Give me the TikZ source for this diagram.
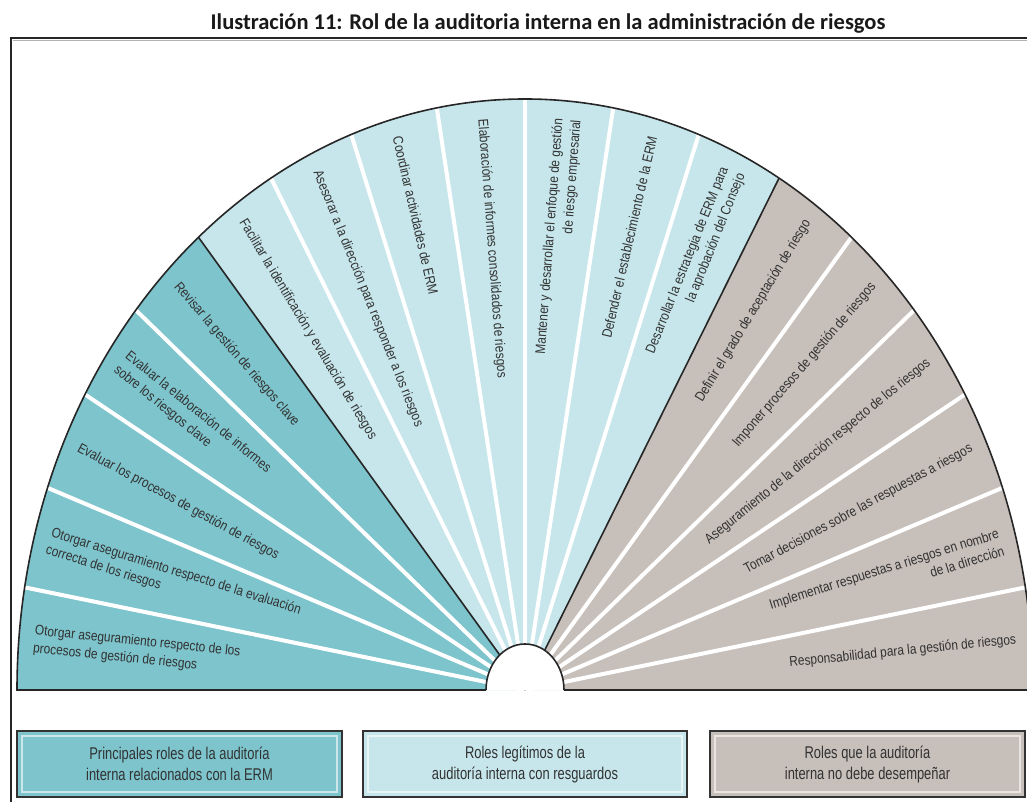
\documentclass[tikz,border=0pt]{standalone}
\usepackage{fontspec}
\setmainfont{Carlito}
\newfontfamily\narrowfont[FakeStretch=0.85]{Liberation Sans}
\newfontfamily\legendfont[FakeStretch=0.76]{Liberation Sans}
\definecolor{ermteal}{RGB}{125,196,204}
\definecolor{ermlight}{RGB}{198,230,235}
\definecolor{ermgray}{RGB}{199,191,186}
\definecolor{ermtext}{RGB}{50,50,50}

\begin{document}
\begin{tikzpicture}[x=1pt,y=1pt,
	whiteline/.style={white,line width=4pt},
	groupline/.style={black!85,line width=1.6pt},
	roletext/.style={font=\narrowfont\fontsize{14}{18}\selectfont,text=ermtext,inner sep=0pt},
	legbox/.style={draw=black!80,line width=2pt,minimum height=66pt,align=center,font=\legendfont\fontsize{17}{21}\selectfont,text=ermtext}]
	\useasboundingbox (0,0) rectangle (1027,801);
	\clip (0,0) rectangle (1027,801);
	\coordinate (c) at (525,111);
	\fill[ermteal] (c) -- ++(180:508 and 591) arc[start angle=180,end angle=130,x radius=508,y radius=591] -- cycle;
	\fill[ermlight] (c) -- ++(130:508 and 591) arc[start angle=130,end angle=60,x radius=508,y radius=591] -- cycle;
	\fill[ermgray] (c) -- ++(60:508 and 591) arc[start angle=60,end angle=0,x radius=508,y radius=591] -- cycle;
	\foreach \a in {170,160,150,140,120,110,100,90,80,70,50,40,30,20,10}
		\draw[whiteline] (c) -- ++(\a:508 and 591);
	\foreach \a in {130,60}
		\draw[groupline] (c) -- ++(\a:508 and 591);
	\draw[groupline] (c) ++(180:508 and 591) arc[start angle=180,end angle=0,x radius=508,y radius=591];
	\fill[white] (c) ++(180:39 and 46) arc[start angle=180,end angle=0,x radius=39,y radius=46] -- cycle;
	\draw[groupline] (c) ++(180:39 and 46) arc[start angle=180,end angle=0,x radius=39,y radius=46];
	\draw[groupline] (c) ++(180:39 and 46) -- ++(-470,0);
	\draw[groupline] (c) ++(0:39 and 46) -- ++(470,0);
	\foreach \p/\t [count=\n] in {
		175/{Otorgar aseguramiento respecto de los\\procesos de gestión de riesgos},
		165/{Otorgar aseguramiento respecto de la evaluación\\correcta de los riesgos},
		155/{Evaluar los procesos de gestión de riesgos},
		145/{Evaluar la elaboración de informes\\sobre los riesgos clave},
		135/{Revisar la gestión de riesgos clave},
		125/{Facilitar la identificación y evaluación de riesgos},
		115/{Asesorar a la dirección para responder a los riesgos},
		105/{Coordinar actividades de ERM},
		95/{Elaboración de informes consolidados de riesgos}}
		\path (c) ++(\p:493 and 573) node[roletext,anchor=west,align=left,rotate={atan2(-1.163*sin(\p),-cos(\p))}] (l\n) {\t};
	\foreach \p/\t [count=\n] in {
		85/{Mantener y desarrollar el enfoque de gestión\\de riesgo empresarial},
		75/{Defender el establecimiento de la ERM},
		65/{Desarrollar la estrategia de ERM para\\la aprobación del Consejo},
		55/{Definir el grado de aceptación de riesgo},
		45/{Imponer procesos de gestión de riesgos},
		35/{Aseguramiento de la dirección respecto de los riesgos},
		25/{Tomar decisiones sobre las respuestas a riesgos},
		15/{Implementar respuestas a riesgos en nombre\\de la dirección},
		5/{Responsabilidad para la gestión de riesgos}}
		\path (c) ++(\p:493 and 573) node[roletext,anchor=east,align=right,rotate={atan2(1.163*sin(\p),cos(\p))}] (r\n) {\t};
	\node[legbox,fill=ermteal,minimum width=325pt] (k1) at (179.5,37) {Principales roles de la auditoría\\interna relacionados con la ERM};
	\node[legbox,fill=ermlight,minimum width=324pt] (k2) at (525,37) {Roles legítimos de la\\auditoría interna con resguardos};
	\node[legbox,fill=ermgray,minimum width=315pt] (k3) at (867.5,37) {Roles que la auditoría\\interna no debe desempeñar};
	\foreach \k in {k1,k2,k3}
		\draw[white,opacity=0.6,line width=1.2pt] ([shift={(6,6)}]\k.south west) rectangle ([shift={(-6,-6)}]\k.north east);
	\draw[black!85,line width=2.5pt] (11,-5) -- (11,763) -- (1035,763);
	\draw[black!30,line width=1pt] (12.5,760.5) -- (1035,760.5);
	\node[font=\bfseries\fontsize{22.5}{26}\selectfont,text=black!90] (title) at (548,777) {Ilustración 11: Rol de la auditoria interna en la administración de riesgos};
\end{tikzpicture}
\end{document}
